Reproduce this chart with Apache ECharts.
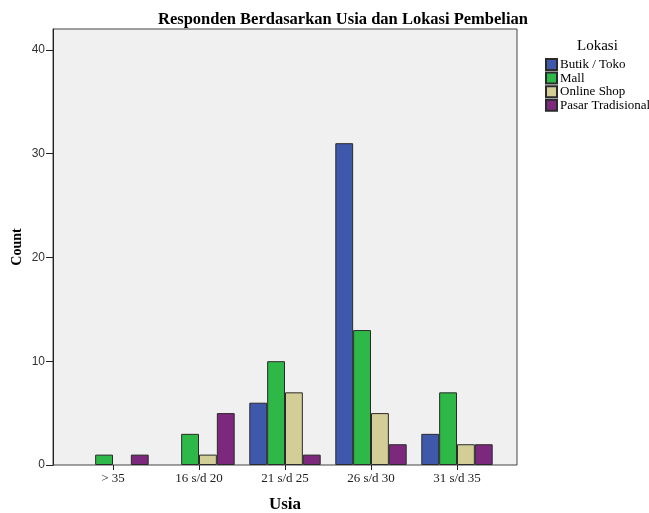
<!DOCTYPE html>
<html>
<head>
<meta charset="utf-8">
<script src="https://cdn.jsdelivr.net/npm/echarts@6/dist/echarts.min.js"></script>
<style>
  html, body { margin: 0; padding: 0; background: #fff; }
  #chart { width: 649px; height: 513px; }
</style>
</head>
<body>
<div id="chart"></div>
<script>
// kategori usia
const usia = ['> 35', '16 s/d 20', '21 s/d 25', '26 s/d 30', '31 s/d 35']
// jumlah per lokasi (null = tidak ada batang)
const butikToko = [null, null, 6, 31, 3]
const mall = [1, 3, 10, 13, 7]
const onlineShop = [null, 1, 7, 5, 2]
const pasarTradisional = [1, 5, 1, 2, 2]

const lokasi = ['Butik / Toko', 'Mall', 'Online Shop', 'Pasar Tradisional']
const warna = ['#3e58ac', '#2eb848', '#d3ce97', '#7b287d']

const serif = '"Liberation Serif", "DejaVu Serif", serif'
const sans = '"Liberation Sans", Arial, sans-serif'

const chart = echarts.init(document.getElementById('chart'))

function bar(name, data, i) {
  return {
    name: name,
    type: 'bar',
    xAxisIndex: 1,
    yAxisIndex: 1,
    data: data,
    barGap: '0%',
    barCategoryGap: '17%',
    itemStyle: { color: warna[i], borderColor: '#2a2a2a', borderWidth: 1 },
    animation: false
  }
}

chart.setOption({
  animation: false,
  title: [
    {
      text: 'Responden Berdasarkan Usia dan Lokasi Pembelian',
      left: 153,
      top: 6,
      textStyle: { fontFamily: serif, fontWeight: 'bold', fontSize: 16.5, color: '#000' }
    },
    {
      text: 'Lokasi',
      left: 572,
      top: 34,
      textStyle: { fontFamily: serif, fontWeight: 'normal', fontSize: 15, color: '#000' }
    }
  ],
  legend: {
    data: lokasi,
    orient: 'vertical',
    left: 545,
    top: 58,
    padding: 0,
    itemWidth: 11,
    itemHeight: 11,
    itemGap: 0.6,
    icon: 'rect',
    textStyle: { fontFamily: serif, fontSize: 13, color: '#000', padding: [0, 0, 0, -2] }
  },
  grid: [
    // bingkai plot
    { left: 53, right: 132, top: 29, bottom: 48, show: true, backgroundColor: '#f0f0f0', borderColor: '#444', borderWidth: 1, outerBoundsMode: 'none' },
    // area batang
    { left: 70, right: 149, top: 29, bottom: 48, outerBoundsMode: 'none' }
  ],
  xAxis: [
    { gridIndex: 0, type: 'value', show: false },
    {
      gridIndex: 1,
      type: 'category',
      data: usia,
      axisLine: { show: false },
      axisTick: { show: true, alignWithLabel: true, length: 5, lineStyle: { color: '#222' } },
      axisLabel: { fontFamily: serif, fontSize: 13, color: '#222', margin: 7 },
      name: 'Usia',
      nameLocation: 'middle',
      nameGap: 31,
      nameTextStyle: { fontFamily: serif, fontWeight: 'bold', fontSize: 17, color: '#000' }
    }
  ],
  yAxis: [
    { gridIndex: 0, type: 'value', show: false },
    {
      gridIndex: 1,
      type: 'value',
      min: 0,
      max: 42,
      interval: 10,
      offset: 17,
      axisLine: { show: true, lineStyle: { color: '#222' } },
      axisTick: { show: true, length: 7, lineStyle: { color: '#222' } },
      axisLabel: { fontFamily: sans, fontSize: 12, color: '#333', margin: 8,
        showMaxLabel: false },
      splitLine: { show: false },
      name: 'Count',
      nameLocation: 'middle',
      nameGap: 29,
      nameMoveOverlap: false,
      nameTextStyle: { fontFamily: serif, fontWeight: 'bold', fontSize: 14, color: '#000' }
    }
  ],
  series: [
    bar(lokasi[0], butikToko, 0),
    bar(lokasi[1], mall, 1),
    bar(lokasi[2], onlineShop, 2),
    bar(lokasi[3], pasarTradisional, 3)
  ]
})
</script>
</body>
</html>
